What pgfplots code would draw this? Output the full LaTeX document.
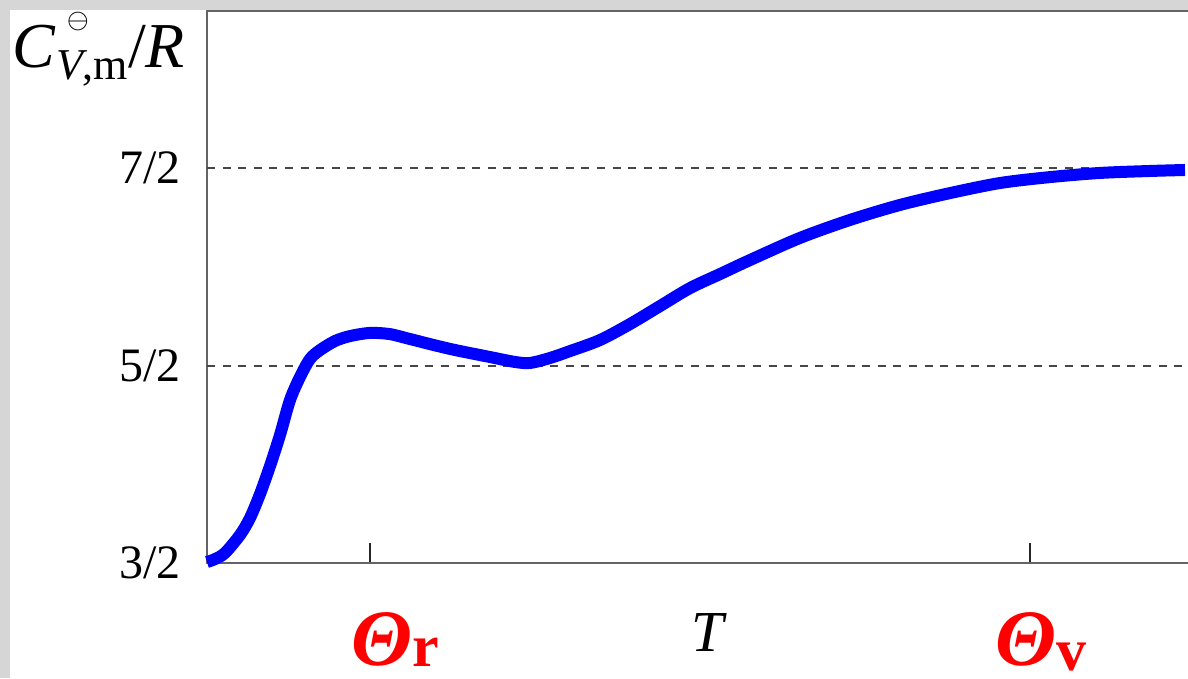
\documentclass[border=0pt]{standalone}
\usepackage{fontspec}
\setmainfont{Liberation Serif}
\usepackage{pgfplots}
\pgfplotsset{compat=1.18}
\definecolor{bg}{RGB}{214,214,214}
\definecolor{axc}{RGB}{100,100,100}
\definecolor{dsh}{RGB}{70,70,70}
\begin{document}
\begin{tikzpicture}[x=1pt,y=1pt]
\fill[bg] (-51.75,-28.75) rectangle (245.25,140.75);
\fill[white] (-49.25,-28.75) rectangle (245.25,138.25);
\begin{axis}[at={(0,0)}, anchor=south west, scale only axis,
  width=245.25pt, height=138pt,
  xmin=0, xmax=981, ymin=1.5, ymax=4.295, clip=false,
  axis line style={draw=none},
  xtick={163,823}, xticklabels={},
  ytick={1.5,2.5,3.5}, yticklabels={\mbox{3/2},\mbox{5/2},\mbox{7/2}},
  xtick pos=bottom, ytick pos=left, tick align=inside,
  x tick style={draw=black!85, line width=0.5pt}, major tick length=5pt,
  y tick style={draw=none},
  yticklabel style={font=\fontsize{12}{14}\selectfont, xshift=-3pt}]
\draw[axc, line width=0.55pt] (rel axis cs:1,1) -- (rel axis cs:0,1) -- (rel axis cs:0,0) -- (rel axis cs:1,0);
\addplot[dsh, line width=0.5pt, dash pattern=on 2pt off 1.9pt] coordinates {(0,2.5) (981,2.5)};
\addplot[dsh, line width=0.5pt, dash pattern=on 2pt off 1.9pt] coordinates {(0,3.5) (981,3.5)};
\addplot[blue, line width=3pt, smooth, tension=0.5] coordinates {
(0,1.505) (8,1.520) (18,1.551) (33,1.642) (43,1.728) (53,1.849) (63,1.991)
(73,2.148) (83,2.325) (93,2.442) (103,2.533) (113,2.578) (128,2.624)
(143,2.649) (163,2.665) (183,2.659) (203,2.634) (243,2.584) (283,2.543)
(308,2.518) (323,2.513) (343,2.538) (363,2.573) (393,2.629) (423,2.710)
(453,2.801) (483,2.892) (513,2.963) (543,3.034) (593,3.146) (643,3.237)
(693,3.313) (743,3.373) (793,3.424) (843,3.454) (893,3.475) (943,3.485) (978,3.490)};
\end{axis}
\node[anchor=base west, inner sep=0, font=\fontsize{16}{18}\selectfont] at (-48.75,124)
 {\textit{C}\makebox[0pt][l]{\hspace{2.6pt}\raisebox{0.62em}{\fontsize{6}{6}\selectfont$\ominus$}}\raisebox{-3.2pt}{\fontsize{11}{12}\selectfont\textit{V},m}/\textit{R}};
\node[font=\fontsize{14.5}{16}\selectfont\itshape] at (125.25,-17.25) {T};
\node[anchor=base west, inner sep=0, red, font=\fontsize{20}{22}\selectfont] at (36,-25.5)
 {\textbf{\textit{Θ}}\raisebox{-0.3pt}{\fontsize{15}{16}\selectfont\bfseries r}};
\node[anchor=base west, inner sep=0, red, font=\fontsize{20}{22}\selectfont] at (197,-25.5)
 {\textbf{\textit{Θ}}\raisebox{-1.4pt}{\fontsize{15}{16}\selectfont\bfseries v}};
\pgfresetboundingbox
\useasboundingbox (-51.75,-28.75) rectangle (245.25,140.75);
\end{tikzpicture}
\end{document}
